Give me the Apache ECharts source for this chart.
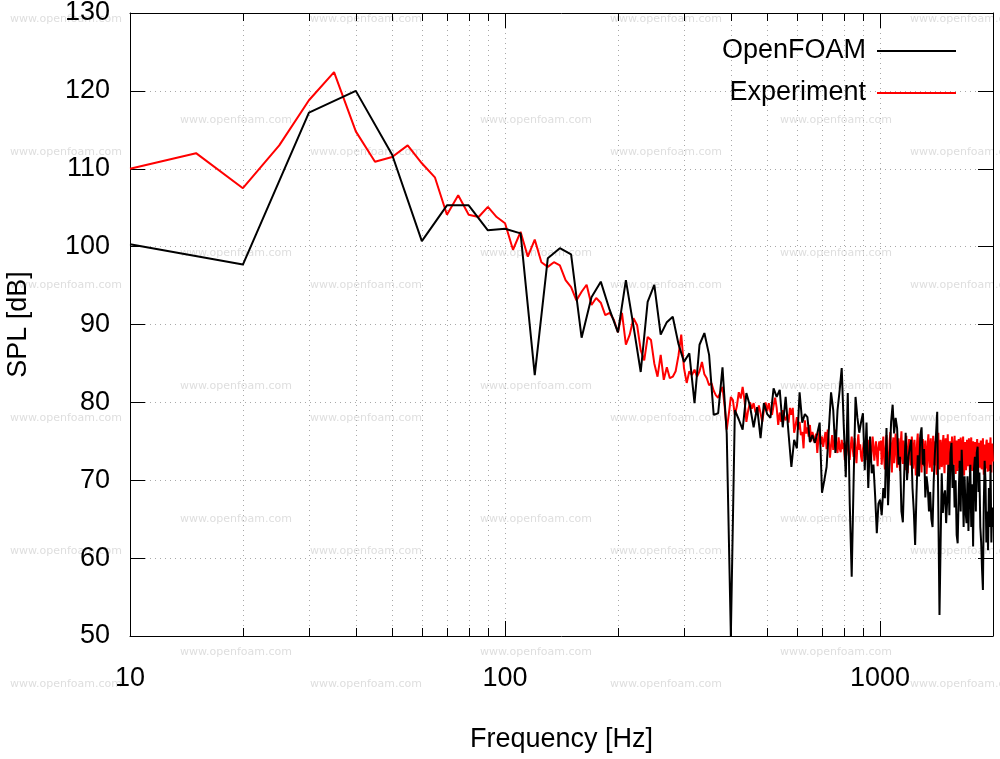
<!DOCTYPE html>
<html><head><meta charset="utf-8">
<script src="https://cdn.jsdelivr.net/npm/echarts@6/dist/echarts.min.js"></script>
<style>html,body{margin:0;padding:0;background:#fff}#c{width:1000px;height:759px}</style>
</head><body><div id="c"></div>
<script>
// ---------------- data ----------------
const seriesNames = ['OpenFOAM', 'Experiment'];
const seriesColors = ['#000000', '#ff0000'];

// OpenFOAM: SPL [dB] sampled every 10 Hz starting at 10 Hz
const openfoamStartHz = 10, openfoamStepHz = 10;
const openfoamSPL = [
  100.3, 97.7, 117.2, 120.0, 111.8, 100.7, 105.3, 105.3, 102.1, 102.3,
  101.7, 83.5, 98.5, 99.8, 99.0, 88.3, 93.5, 95.5, 91.9, 89.0,
  95.7, 89.8, 83.9, 92.9, 95.1, 88.7, 90.3, 91.0, 87.5, 85.2,
  86.3, 79.9, 87.4, 88.9, 86.1, 78.4, 78.6, 84.5, 76.0, 50.0,
  79.0, 77.8, 76.5, 81.2, 79.5, 76.8, 79.4, 75.4, 79.9, 78.5,
  78.0, 81.8, 80.7, 81.6, 76.8, 80.7, 76.0, 71.7, 75.2, 74.1,
  81.3, 77.4, 78.5, 78.1, 74.9, 75.8, 74.8, 76.0, 77.4, 68.4,
  70.0, 71.7, 76.5, 81.3, 79.0, 73.5, 79.0, 81.5, 84.4, 77.0,
  70.4, 81.2, 67.0, 57.6, 70.0, 80.7, 78.0, 76.1, 77.5, 78.6,
  71.3, 77.4, 69.0, 75.6, 70.9, 72.0, 68.0, 63.2, 67.0, 67.5,
  65.5, 69.0, 67.7, 76.7, 66.8, 72.5, 77.5, 79.7, 76.0, 78.0,
  76.7, 72.0, 73.0, 66.0, 64.6, 71.0, 76.1, 70.0, 73.0, 74.2,
  75.2, 69.0, 66.0, 61.7, 68.0, 73.2, 70.5, 75.8, 76.8, 72.0,
  74.0, 67.8, 70.5, 69.1, 66.0, 68.5, 65.0, 64.0, 70.0, 73.5,
  76.0, 78.8, 66.0, 52.7, 62.0, 70.9, 65.8, 68.0, 68.7, 64.5,
  67.5, 72.0, 65.5, 73.5, 74.8, 69.0, 72.0, 66.5, 70.0, 63.0,
  61.9, 68.0, 72.5, 66.0, 73.9, 70.0, 64.0, 70.5, 66.0, 64.5,
  70.5, 63.5, 68.7, 72.0, 64.0, 69.5, 61.5, 71.5, 73.0, 66.0,
  73.5, 74.3, 68.5, 71.0, 64.0, 62.0, 58.5, 55.9, 67.0, 72.5,
  70.0, 62.0, 66.0, 61.0, 69.0, 64.0, 72.0, 62.0, 66.5, 64.0
];

// Experiment: SPL [dB] sampled every 5 Hz starting at 10 Hz
const experimentStartHz = 10, experimentStepHz = 5;
const experimentSPL = [
  110.0, 112.0, 107.5, 113.0, 118.8, 122.4, 114.8, 110.9, 111.5, 113.0,
  110.7, 108.9, 104.1, 106.6, 104.1, 103.8, 105.1, 103.8, 103.0, 99.6,
  101.9, 98.7, 100.9, 98.0, 97.4, 98.0, 97.6, 95.7, 94.8, 93.1,
  94.2, 95.1, 92.5, 93.4, 92.8, 91.2, 91.5, 90.6, 89.0, 91.5,
  87.4, 88.7, 90.8, 89.9, 86.7, 85.4, 88.4, 88.0, 85.0, 83.3,
  86.1, 82.9, 84.5, 83.1, 83.3, 84.0, 86.0, 88.7, 84.4, 82.5,
  84.0, 83.5, 84.2, 83.3, 84.0, 85.2, 83.6, 83.1, 82.2, 82.5,
  81.5, 80.9, 80.6, 81.3, 82.0, 79.5, 76.5, 78.5, 80.7, 80.3,
  78.4, 79.5, 81.3, 80.5, 82.0, 80.3, 77.5, 79.0, 80.0, 79.2,
  79.9, 78.8, 78.4, 79.6, 78.6, 77.5, 79.0, 80.0, 78.9, 79.9,
  78.8, 78.4, 79.6, 80.6, 79.3, 77.1, 78.7, 77.5, 79.0, 78.1,
  77.7, 78.5, 77.4, 79.3, 78.4, 79.3, 76.1, 77.0, 78.1, 76.5,
  77.5, 75.8, 76.2, 74.1, 77.7, 76.0, 76.8, 75.6, 77.1, 75.0,
  76.2, 75.6, 74.8, 76.0, 73.5, 75.4, 76.5, 74.6, 75.6, 74.3,
  74.5, 76.2, 74.0, 76.5, 75.0, 72.9, 74.5, 75.8, 73.9, 74.6,
  76.5, 74.3, 73.5, 75.5, 74.1, 73.6, 75.2, 74.0, 74.8, 72.6,
  74.0, 75.0, 74.8, 73.2, 72.6, 74.4, 75.6, 74.1, 73.0, 75.4,
  73.8, 72.2, 74.5, 75.9, 73.9, 74.6, 73.0, 72.4, 74.0, 74.9,
  73.6, 72.6, 75.3, 74.2, 73.0, 75.2, 74.0, 72.3, 73.8, 75.6,
  74.4, 72.5, 73.7, 75.0, 73.5, 71.8, 74.2, 75.0, 73.8, 75.1,
  72.0, 74.3, 75.6, 72.8, 71.4, 74.0, 75.8, 73.1, 69.8, 72.5,
  75.0, 76.2, 73.4, 71.0, 74.6, 75.5, 72.2, 73.9, 76.0, 74.1,
  71.6, 73.5, 75.4, 72.9, 71.2, 74.8, 76.3, 73.0, 72.1, 75.1,
  74.0, 71.3, 73.2, 75.7, 72.6, 70.9, 73.8, 75.3, 74.2, 71.9,
  73.0, 75.6, 74.5, 71.5, 72.8, 75.2, 73.6, 70.6, 72.4, 74.9,
  76.0, 73.3, 71.7, 74.4, 75.5, 72.7, 71.0, 73.9, 75.3, 74.0,
  71.8, 72.9, 75.1, 73.7, 70.8, 72.3, 74.8, 75.9, 73.1, 71.6,
  74.2, 75.4, 72.5, 71.1, 73.6, 75.7, 74.3, 71.9, 72.8, 75.0,
  73.4, 70.7, 72.6, 74.7, 76.1, 73.2, 71.4, 73.0, 75.2, 74.1,
  71.7, 72.2, 74.9, 75.8, 72.4, 70.9, 73.5, 75.4, 73.9, 72.0,
  74.5, 75.9, 73.1, 71.3, 72.7, 75.0, 74.4, 71.5, 73.2, 75.6,
  74.0, 71.9, 72.6, 74.6, 75.7, 72.8, 70.8, 73.3, 75.1, 73.6,
  71.2, 72.9, 75.3, 74.2, 71.6, 73.0, 75.5, 73.8, 71.4, 72.5,
  74.8, 75.6, 72.3, 70.6, 73.1, 74.9, 73.7, 71.3, 72.4, 75.2,
  74.3, 71.8, 72.9, 75.4, 73.5, 71.0, 72.2, 74.7, 75.5, 72.6,
  71.2, 73.6, 75.0, 73.9, 71.5, 72.7, 74.9, 74.0, 71.1, 72.3,
  74.6, 75.3, 72.5, 70.9, 73.2, 74.8, 73.4, 71.6, 72.8, 75.1,
  74.2, 71.4, 72.6, 74.5, 75.4, 72.9, 70.7, 73.0, 74.6, 73.3,
  71.5, 72.8, 74.9, 75.2, 72.3, 71.1, 73.4, 74.8, 73.6, 71.2,
  72.7, 74.5, 75.5, 72.7, 71.0, 73.1, 74.7, 73.5, 72.4
];

// axis tick values
const xMin = 10, xMax = 2000;
const xMinorTicksHz = [20, 30, 40, 50, 60, 70, 80, 90, 200, 300, 400, 500, 600, 700, 800, 900];
const yMin = 50, yMax = 130, yStep = 10;
const xAxisTitle = 'Frequency [Hz]';
const yAxisTitle = 'SPL [dB]';
const watermarkText = 'www.openfoam.com';

// ---------------- chart ----------------
const FONT = '"Liberation Sans", Arial, Helvetica, sans-serif';
const gridDash = { color: '#a8a8a8', width: 1, type: [1, 4] };

const toPairs = (arr, start, step) => arr.map((v, i) => [start + i * step, v]);

const wmA = { rows: [19, 152, 285, 418, 551, 684], cols: [10, 310, 610, 910] };
const wmB = { rows: [120, 253, 386, 519, 652], cols: [180, 480, 780] };
const graphics = [];
[wmA, wmB].forEach(g => g.rows.forEach(y => g.cols.forEach(x => graphics.push({
  type: 'text', x: x, y: y, silent: true, z: -10,
  style: { text: watermarkText, fill: '#dedede', font: '11px "DejaVu Sans", sans-serif', verticalAlign: 'middle', align: 'left' }
}))));

const chart = echarts.init(document.getElementById('c'), null, { renderer: 'canvas' });
chart.setOption({
  animation: false,
  backgroundColor: '#ffffff',
  graphic: graphics,
  grid: { left: 130, right: 7, top: 13, bottom: 123, containLabel: false, outerBoundsMode: 'none' },
  legend: {
    data: seriesNames,
    orient: 'vertical', align: 'right',
    right: 39, top: 32,
    icon: 'rect',
    itemWidth: 79, itemHeight: 2, itemGap: 14,
    textStyle: { fontSize: 27, fontFamily: FONT, color: '#000', lineHeight: 28, padding: [0, 6, 0, 0] }
  },
  xAxis: [{
    type: 'log', logBase: 10, min: xMin, max: xMax, position: 'bottom',
    name: xAxisTitle, nameLocation: 'middle', nameGap: 90,
    nameTextStyle: { fontSize: 27, fontFamily: FONT, color: '#000' },
    axisLine: { onZero: false, lineStyle: { color: '#000', width: 1 } },
    axisTick: { inside: true, length: 15, lineStyle: { color: '#000', width: 1 } },
    axisLabel: { margin: 29, fontSize: 27, fontFamily: FONT, color: '#000', showMaxLabel: false, formatter: v => String(Math.round(v)) },
    splitLine: { show: true, lineStyle: gridDash },
    minorTick: { show: false }
  }, {
    type: 'log', logBase: 10, min: xMin, max: xMax, position: 'top',
    axisLine: { onZero: false, lineStyle: { color: '#000', width: 1 } },
    axisTick: { inside: true, length: 15, lineStyle: { color: '#000', width: 1 } },
    axisLabel: { show: false }, splitLine: { show: false }
  }],
  yAxis: [{
    type: 'value', min: yMin, max: yMax, interval: yStep, position: 'left',
    name: yAxisTitle, nameLocation: 'middle', nameGap: 98, nameRotate: 90,
    nameTextStyle: { fontSize: 27, fontFamily: FONT, color: '#000' },
    axisLine: { show: true, lineStyle: { color: '#000', width: 1 } },
    axisTick: { show: true, inside: true, length: 15, lineStyle: { color: '#000', width: 1 } },
    axisLabel: { margin: 20, fontSize: 27, fontFamily: FONT, color: '#000' },
    splitLine: { show: true, lineStyle: gridDash }
  }, {
    type: 'value', min: yMin, max: yMax, interval: yStep, position: 'right',
    axisLine: { show: true, lineStyle: { color: '#000', width: 1 } },
    axisTick: { show: true, inside: true, length: 15, lineStyle: { color: '#000', width: 1 } },
    axisLabel: { show: false }, splitLine: { show: false }
  }],
  series: [
    {
      type: 'custom', name: 'minorTicks', silent: true, z: 1,
      xAxisIndex: 0, yAxisIndex: 0,
      data: xMinorTicksHz.map(v => [v, yMin]),
      encode: { x: 0, y: 1 },
      renderItem: (params, api) => {
        const f = api.value(0);
        const b = api.coord([f, yMin]);
        const t = api.coord([f, yMax]);
        const x = Math.round(b[0]) + 0.5;
        return {
          type: 'group', children: [
            { type: 'line', shape: { x1: x, y1: b[1], x2: x, y2: t[1] }, style: { stroke: '#a8a8a8', lineWidth: 1, lineDash: [1, 4] } },
            { type: 'line', shape: { x1: x, y1: b[1], x2: x, y2: b[1] - 8 }, style: { stroke: '#000', lineWidth: 1 } },
            { type: 'line', shape: { x1: x, y1: t[1], x2: x, y2: t[1] + 8 }, style: { stroke: '#000', lineWidth: 1 } }
          ]
        };
      }
    },
    {
      type: 'line', name: seriesNames[0], xAxisIndex: 0, yAxisIndex: 0,
      data: toPairs(openfoamSPL, openfoamStartHz, openfoamStepHz),
      symbol: 'none', showSymbol: false, clip: true, z: 3,
      lineStyle: { color: seriesColors[0], width: 2 }, itemStyle: { color: seriesColors[0] }
    },
    {
      type: 'line', name: seriesNames[1], xAxisIndex: 0, yAxisIndex: 0,
      data: toPairs(experimentSPL, experimentStartHz, experimentStepHz),
      symbol: 'none', showSymbol: false, clip: true, z: 2,
      lineStyle: { color: seriesColors[1], width: 2 }, itemStyle: { color: seriesColors[1] }
    }
  ]
});
</script>
</body></html>
